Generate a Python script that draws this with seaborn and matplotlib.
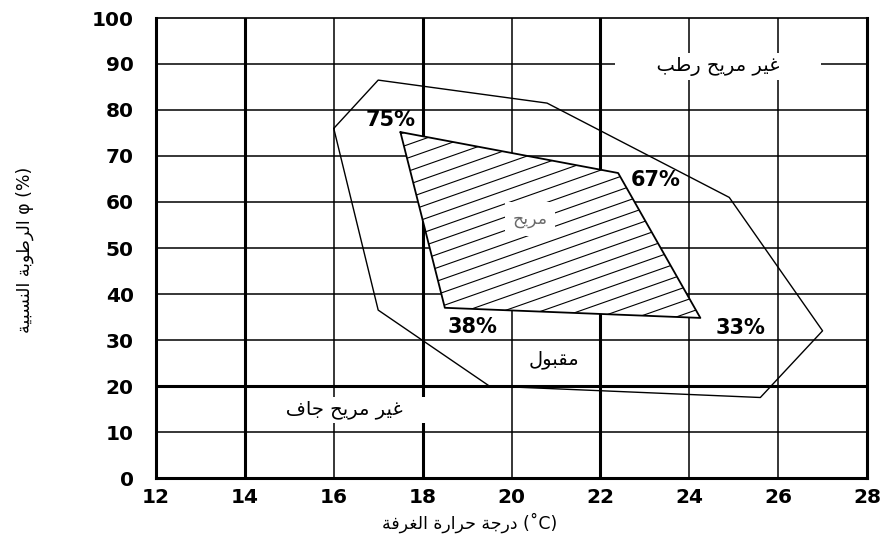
import numpy as np
import matplotlib
matplotlib.use("Agg")
import matplotlib.pyplot as plt
import seaborn as sns

# ---------------- data ----------------
x_ticks = [12, 14, 16, 18, 20, 22, 24, 26, 28]
y_ticks = [0, 10, 20, 30, 40, 50, 60, 70, 80, 90, 100]
thick_x = [14, 18, 22]
thick_y = [20]

# acceptable zone (outer polygon): room temperature (C), relative humidity (%)
outer_temp = [16.0, 17.0, 20.8, 24.9, 27.0, 25.6, 19.5, 17.0, 16.0]
outer_rh = [76.0, 86.5, 81.5, 61.0, 32.0, 17.5, 20.0, 36.5, 76.0]

# comfortable zone (inner hatched polygon)
inner_temp = [17.5, 22.4, 24.25, 18.5, 17.5]
inner_rh = [75.2, 66.3, 34.8, 37.0, 75.2]

pct_labels = ["75%", "67%", "38%", "33%"]
pct_x = [17.27, 23.24, 19.12, 25.15]
pct_y = [77.8, 64.8, 32.8, 32.6]

# ---------------- Arabic shaping (presentation forms) ----------------
FORMS = {
    'ا': ('\uFE8D', '\uFE8E', None, None),
    'ب': ('\uFE8F', '\uFE90', '\uFE91', '\uFE92'),
    'ة': ('\uFE93', '\uFE94', None, None),
    'ج': ('\uFE9D', '\uFE9E', '\uFE9F', '\uFEA0'),
    'ح': ('\uFEA1', '\uFEA2', '\uFEA3', '\uFEA4'),
    'د': ('\uFEA9', '\uFEAA', None, None),
    'ر': ('\uFEAD', '\uFEAE', None, None),
    'س': ('\uFEB1', '\uFEB2', '\uFEB3', '\uFEB4'),
    'ط': ('\uFEC1', '\uFEC2', '\uFEC3', '\uFEC4'),
    'غ': ('\uFECD', '\uFECE', '\uFECF', '\uFED0'),
    'ف': ('\uFED1', '\uFED2', '\uFED3', '\uFED4'),
    'ق': ('\uFED5', '\uFED6', '\uFED7', '\uFED8'),
    'ل': ('\uFEDD', '\uFEDE', '\uFEDF', '\uFEE0'),
    'م': ('\uFEE1', '\uFEE2', '\uFEE3', '\uFEE4'),
    'ن': ('\uFEE5', '\uFEE6', '\uFEE7', '\uFEE8'),
    'و': ('\uFEED', '\uFEEE', None, None),
    'ي': ('\uFEF1', '\uFEF2', '\uFEF3', '\uFEF4'),
}


def shape_word(w):
    out = []
    for i, c in enumerate(w):
        if c not in FORMS:
            out.append(c)
            continue
        f = FORMS[c]
        prev = w[i - 1] if i > 0 else None
        nxt = w[i + 1] if i + 1 < len(w) else None
        jp = prev in FORMS and FORMS[prev][2] is not None
        jn = f[2] is not None and nxt in FORMS
        if jp and jn:
            out.append(f[3])
        elif jp:
            out.append(f[1])
        elif jn:
            out.append(f[2])
        else:
            out.append(f[0])
    return ''.join(reversed(out))


def rtl(text):
    return ' '.join(shape_word(w) for w in reversed(text.split(' ')))


# ---------------- figure ----------------
sns.set_style("white")
plt.rcParams['font.family'] = ['DejaVu Sans']
plt.rcParams['text.color'] = 'black'
plt.rcParams['xtick.color'] = 'black'
plt.rcParams['ytick.color'] = 'black'

fig = plt.figure(figsize=(8.82, 5.42), dpi=100)
ax = fig.add_axes([156 / 882, 1 - 478 / 542, (867 - 156) / 882, (478 - 18) / 542])
ax.set_xlim(12, 28)
ax.set_ylim(0, 100)

# grid lines
for xv in x_ticks[1:-1]:
    ax.axvline(xv, color='black', lw=2.2 if xv in thick_x else 1.1, zorder=1)
for yv in y_ticks[1:-1]:
    ax.axhline(yv, color='black', lw=2.2 if yv in thick_y else 1.1, zorder=1)

# outer (acceptable) polygon
sns.lineplot(x=outer_temp, y=outer_rh, sort=False, estimator=None,
             color='black', lw=1.0, ax=ax, zorder=3)

# inner (comfortable) polygon with hatching
poly = ax.fill(inner_temp, inner_rh, facecolor='white', edgecolor='none', zorder=2)[0]
slope = 3.4
xs = np.array([16.0, 26.0])
for b in np.arange(-40, 110, 2.9):
    ln, = ax.plot(xs, slope * (xs - 17.0) + b, color='black', lw=0.8, zorder=2.5)
    ln.set_clip_path(poly)
sns.lineplot(x=inner_temp, y=inner_rh, sort=False, estimator=None,
             color='black', lw=1.3, ax=ax, zorder=3)

# spines
for side in ['left', 'right', 'bottom']:
    ax.spines[side].set_linewidth(2.2)
    ax.spines[side].set_color('black')
ax.spines['top'].set_linewidth(1.2)
ax.spines['top'].set_color('black')
for sp in ax.spines.values():
    sp.set_zorder(4)

# ticks
ax.set_xticks(x_ticks)
ax.set_xticklabels([str(v) for v in x_ticks])
ax.set_yticks(y_ticks)
ax.set_yticklabels([str(v) for v in y_ticks])
ax.tick_params(axis='x', length=0, pad=7, labelsize=14.5, labelcolor='black')
ax.tick_params(axis='y', length=0, pad=16, labelsize=14.5, labelcolor='black')
for lab in ax.get_xticklabels() + ax.get_yticklabels():
    lab.set_fontweight('heavy')

# percentage labels
for t, xv, yv in zip(pct_labels, pct_x, pct_y):
    ax.text(xv, yv, t, ha='center', va='center', fontsize=15,
            fontweight='heavy', color='black', zorder=6)

# zone labels
wb = dict(facecolor='white', edgecolor='none', boxstyle='square,pad=0.2')
ax.text(24.65, 89.5, '      ' + rtl('غير مريح رطب') + '      ', ha='center', va='center',
        fontsize=14, bbox=wb, color='black', zorder=6)
ax.text(16.3, 14.8, '   ' + rtl('غير مريح جاف') + '    ', ha='center', va='center',
        fontsize=14, bbox=wb, color='black', zorder=6)
ax.text(20.42, 56.3, rtl('مريح'), ha='center', va='center', fontsize=12.5,
        color='#6a6a6a', bbox=dict(facecolor='white', edgecolor='none',
                                   boxstyle='square,pad=0.45'), zorder=6)
ax.text(20.96, 25.7, rtl('مقبول'), ha='center', va='center', fontsize=14,
        color='black', zorder=6)

# axis titles
fig.text(470 / 882, 1 - 523 / 542, rtl('درجة حرارة الغرفة') + ' (˚C)',
         ha='center', va='center', fontsize=12.5, color='black')
fig.text(25 / 882, 1 - 250 / 542, rtl('الرطوبة النسبية') + ' φ (%)',
         ha='center', va='center', fontsize=12.5, rotation=90, color='black')

fig.savefig('out.png', dpi=100)
